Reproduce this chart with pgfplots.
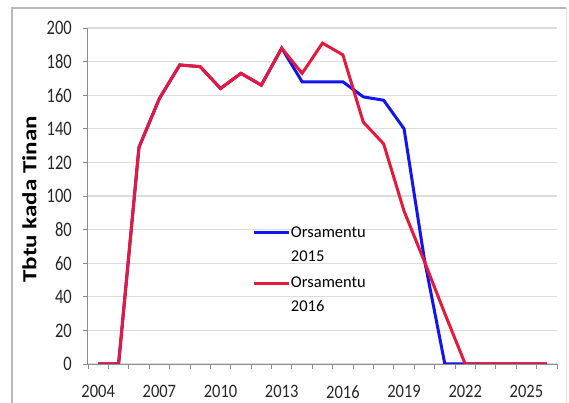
\documentclass[border=0pt]{standalone}
\usepackage{pgfplots}
\pgfplotsset{compat=1.18}
\usepackage{fontspec}
\setmainfont{Carlito}
\definecolor{lblue}{HTML}{1414F0}
\definecolor{lred}{HTML}{E6193C}
\definecolor{gridc}{HTML}{DCDCDC}
\definecolor{axc}{HTML}{8C8C8C}
\begin{document}
\begin{tikzpicture}
\path[use as bounding box] (0bp,0bp) rectangle (569bp,403bp);
\draw[color=gray!55, line width=1.5bp] (12bp,-5bp) -- (12bp,395bp) -- (566bp,395bp);
\draw[color=gray!20, line width=1bp] (566bp,395bp) -- (566bp,-5bp);
\begin{axis}[
  at={(88bp,39bp)}, anchor=south west,
  scale only axis, width=469bp, height=336bp,
  xmin=2003.5, xmax=2026.5, ymin=0, ymax=200,
  axis x line*=bottom, axis y line*=left,
  axis line style={draw=axc, line width=1bp, -},
  ytick={0,20,...,200},
  xtick={2003.5,2004.5,...,2026.5},
  xticklabels={},
  extra x ticks={2004,2007,2010,2013,2016,2019,2022,2025},
  extra x tick labels={2004,2007,2010,2013,2016,2019,2022,2025},
  extra x tick style={major tick length=0pt},
  tick align=outside, major tick length=5bp,
  tick style={draw=axc, line width=0.8bp},
  ymajorgrids, grid style={draw=gridc, line width=1.3bp},
  /pgf/number format/assume math mode=true,
  ticklabel style={font=\fontsize{16.5bp}{20bp}\selectfont, text=black!85, inner sep=0pt, yscale=1.25},
  yticklabel style={anchor=east, xshift=-11bp},
  xticklabel style={anchor=north, yshift=-17bp, yscale=0.92},
  ylabel={Tbtu kada Tinan},
  ylabel style={font=\fontsize{20bp}{24bp}\selectfont\bfseries, xscale=1.25, at={(rel axis cs:0,0.49)}, anchor=south, yshift=48bp},
  legend style={at={(rel axis cs:0.345,0.415)}, anchor=north west, draw=none, fill=none,
    font=\fontsize{16.5bp}{24bp}\selectfont, nodes={align=left, inner sep=0pt}, row sep=14bp},
  legend cell align=left,
  legend image code/.code={\path[draw=none] (0bp,-12bp) -- (0bp,12bp); \draw (0bp,12bp) -- (35bp,12bp);},
]
\addplot[lblue, line width=3bp] coordinates {
(2004,0) (2005,0) (2006,129) (2007,158) (2008,178) (2009,177) (2010,164) (2011,173) (2012,166) (2013,188)
(2014,168) (2015,168) (2016,168) (2017,159) (2018,157) (2019,140) (2020,62) (2021,0) (2022,0) (2023,0) (2024,0) (2025,0) (2026,0)};
\addlegendentry{Orsamentu\\2015}
\addplot[lred, line width=3bp] coordinates {
(2004,0) (2005,0) (2006,129) (2007,158) (2008,178) (2009,177) (2010,164) (2011,173) (2012,166) (2013,188)
(2014,173) (2015,191) (2016,184) (2017,144) (2018,131) (2019,91) (2020,61) (2021,30) (2022,0) (2023,0) (2024,0) (2025,0) (2026,0)};
\addlegendentry{Orsamentu\\2016}
\end{axis}
\end{tikzpicture}
\end{document}
